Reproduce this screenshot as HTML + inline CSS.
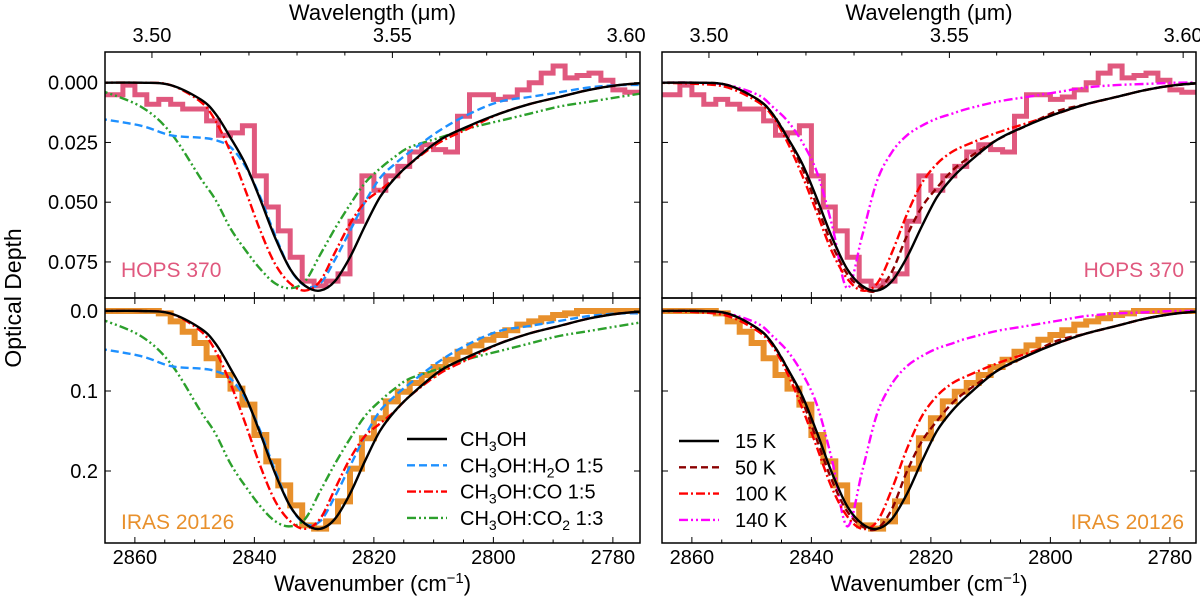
<!DOCTYPE html>
<html><head><meta charset="utf-8"><style>
html,body{margin:0;padding:0;background:#fff;}
svg{display:block;font-family:"Liberation Sans","DejaVu Sans",sans-serif;}
</style></head><body>
<svg id="chart" width="1200" height="599" viewBox="0 0 1200 599" xmlns="http://www.w3.org/2000/svg">
<rect width="1200" height="599" fill="#fff"/>
</svg>
<script>
// wavenumber grid for model profiles (cm^-1)
const gridWn = [2866,2859,2854,2849,2846.5,2844,2841.5,2839,2836.5,2834,2831.5,2829,2826.5,2824,2821.5,2819,2816.5,2814,2809,2804,2799,2794,2789,2784,2779,2774];
// model optical depths (HOPS 370 scale)
const pureCH3OH = [0,0,0.001,0.007,0.013,0.023,0.034,0.049,0.065,0.078,0.085,0.087,0.083,0.073,0.060,0.048,0.040,0.034,0.024,0.018,0.013,0.009,0.006,0.003,0.001,0];
const mixH2O   = [0.015,0.018,0.022,0.023,0.024,0.027,0.035,0.048,0.064,0.078,0.085,0.084,0.074,0.062,0.050,0.040,0.034,0.029,0.020,0.013,0.008,0.006,0.004,0.002,0.001,0.001];
const mixCO    = [0,0,0.001,0.008,0.016,0.029,0.045,0.062,0.076,0.084,0.087,0.083,0.071,0.059,0.050,0.045,0.040,0.034,0.025,0.019,0.013,0.009,0.006,0.003,0.001,0];
const mixCO2   = [0.003,0.010,0.021,0.040,0.049,0.061,0.070,0.078,0.084,0.086,0.083,0.072,0.061,0.051,0.042,0.036,0.031,0.027,0.023,0.019,0.016,0.013,0.010,0.008,0.006,0.004];
const temp50K  = [0,0,0.001,0.007,0.013,0.023,0.036,0.052,0.068,0.080,0.086,0.087,0.079,0.064,0.052,0.044,0.037,0.032,0.024,0.018,0.012,0.009,0.006,0.003,0.001,0];
const temp100K = [0,0.0005,0.002,0.008,0.014,0.025,0.039,0.055,0.071,0.082,0.087,0.084,0.071,0.055,0.042,0.034,0.029,0.026,0.021,0.017,0.013,0.009,0.006,0.003,0.001,0];
const temp140K = [0,0,0.001,0.005,0.010,0.016,0.025,0.038,0.060,0.086,0.064,0.041,0.029,0.022,0.018,0.015,0.013,0.011,0.008,0.006,0.004,0.002,0.001,0.0005,0,0];
// observed spectra, 2 cm^-1 bins starting at 2866
const binStart = 2866;
const binWidth = 2;
const hopsTau = [0.005,0.005,0.001,0.005,0.009,0.007,0.009,0.011,0.011,0.016,0.022,0.021,0.018,0.039,0.052,0.062,0.073,0.083,0.085,0.083,0.080,0.058,0.039,0.045,0.039,0.035,0.029,0.026,0.028,0.029,0.014,0.005,0.005,0.007,0.006,0.003,0.000,-0.004,-0.007,-0.002,-0.003,-0.004,-0.001,0.003,0.004,0.004];
const irasTau = [0,0,0,0,0,0.003,0.013,0.026,0.040,0.059,0.080,0.097,0.117,0.155,0.188,0.218,0.243,0.268,0.272,0.263,0.238,0.197,0.159,0.134,0.113,0.101,0.090,0.080,0.070,0.061,0.051,0.043,0.036,0.030,0.024,0.017,0.013,0.009,0.005,0.003,0,0,0,0,0,0];
const panelDepthScale = [1, 3.13];
const yTicksTop = [0.000,0.025,0.050,0.075];
const yTickLabelsTop = ["0.000","0.025","0.050","0.075"];
const yTicksBottom = [0.0,0.1,0.2];
const yTickLabelsBottom = ["0.0","0.1","0.2"];
const xTicks = [2860,2840,2820,2800,2780];
const wlTicks = [3.50,3.55,3.60];

const NS="http://www.w3.org/2000/svg";
const svg=document.getElementById('chart');
function mk(tag,attrs,parent){const e=document.createElementNS(NS,tag);for(const k in attrs)e.setAttribute(k,attrs[k]);(parent||svg).appendChild(e);return e;}

const panels=[
 {L:105,R:640,T:52,B:298,y0:82.7,k:2390,row:0,side:0},
 {L:662,R:1196,T:52,B:298,y0:82.7,k:2390,row:0,side:1},
 {L:105,R:640,T:298,B:543,y0:311,k:800,row:1,side:0},
 {L:662,R:1196,T:298,B:543,y0:311,k:800,row:1,side:1}
];
const WN0=2865, PX=5.975;
const TICKFS=20, TITLEFS=22;
function smoothPath(pts){
  let d="M"+pts[0][0].toFixed(1)+","+pts[0][1].toFixed(1);
  for(let i=0;i<pts.length-1;i++){
    const p0=pts[Math.max(0,i-1)],p1=pts[i],p2=pts[i+1],p3=pts[Math.min(pts.length-1,i+2)];
    const c1=[p1[0]+(p2[0]-p0[0])/6,p1[1]+(p2[1]-p0[1])/6];
    const c2=[p2[0]-(p3[0]-p1[0])/6,p2[1]-(p3[1]-p1[1])/6];
    d+="C"+c1[0].toFixed(1)+","+c1[1].toFixed(1)+" "+c2[0].toFixed(1)+","+c2[1].toFixed(1)+" "+p2[0].toFixed(1)+","+p2[1].toFixed(1);
  }
  return d;
}
const defs=mk('defs',{});
panels.forEach((p,pi)=>{
  const cp=mk('clipPath',{id:'clip'+pi},defs);
  mk('rect',{x:p.L,y:p.T,width:p.R-p.L,height:p.B-p.T},cp);
});

panels.forEach((p,pi)=>{
  const xs=wn=>p.L+(WN0-wn)*PX;
  const ys=t=>p.y0+t*p.k;
  const sc=panelDepthScale[p.row];
  const g=mk('g',{'clip-path':'url(#clip'+pi+')'});
  
  
  const obs=p.row?irasTau:hopsTau;
  let d="";
  obs.forEach((v,i)=>{
    const x1=xs(binStart-i*binWidth), x2=xs(binStart-(i+1)*binWidth), y=ys(v);
    d+=(i===0?"M"+x1.toFixed(1)+","+y.toFixed(1):"V"+y.toFixed(1))+"H"+x2.toFixed(1);
  });
  const h=mk('path',{d:d,fill:'none',stroke:p.row?'#e8902c':'#e0587e','stroke-width':p.row?6:5,'stroke-linejoin':'miter'},g);
  
  
  const series=p.side===0?[
    {v:mixCO2,c:'#2ca02c',da:'9,3,2,3,2,3',n:'ch3oh-co2-model'},
    {v:mixH2O,c:'#1e90ff',da:'8,4',n:'ch3oh-h2o-model'},
    {v:mixCO,c:'#ff0000',da:'9,3,2,3',n:'ch3oh-co-model'},
    {v:pureCH3OH,c:'#000',da:'',n:'ch3oh-model'}
  ]:[
    {v:temp140K,c:'#ff00ff',da:'9,3,2,3,2,3',n:'140k-model'},
    {v:temp100K,c:'#ff0000',da:'9,3,2,3',n:'100k-model'},
    {v:temp50K,c:'#8b0000',da:'7,4',n:'50k-model'},
    {v:pureCH3OH,c:'#000',da:'',n:'15k-model'}
  ];
  series.forEach(s=>{
    const pts=gridWn.map((w,i)=>[xs(w),ys(s.v[i]*sc)]);
    const a={d:smoothPath(pts),fill:'none',stroke:s.c,'stroke-width':2.4};
    if(s.da)a['stroke-dasharray']=s.da;
    const e=mk('path',a,g);
    
    
  });
  const fr=mk('rect',{x:p.L,y:p.T,width:p.R-p.L,height:p.B-p.T,fill:'none',stroke:'#000','stroke-width':1.5});
  
  
  for(let w=2865;w>=2775;w-=5){
    const x=xs(w); if(x<p.L+1||x>p.R-1)continue;
    const len=(w%20===0)?6:3.5;
    mk('line',{x1:x,x2:x,y1:p.B,y2:p.B-len,stroke:'#000','stroke-width':1});
    if(p.row===1) mk('line',{x1:x,x2:x,y1:p.T,y2:p.T+len,stroke:'#000','stroke-width':1});
  }
  if(p.row===1){
    xTicks.forEach(w=>{
      const t=mk('text',{x:xs(w),y:564,'font-size':TICKFS,'text-anchor':'middle',fill:'#000'});
      t.textContent=String(w);
      
      
    });
  } else {
    for(let l=3.49;l<=3.611;l+=0.01){
      const x=xs(10000/l); if(x<p.L+1||x>p.R-1)continue;
      const maj=Math.abs(Math.round(l*100)%5)===0;
      mk('line',{x1:x,x2:x,y1:p.T,y2:p.T+(maj?6:3.5),stroke:'#000','stroke-width':1});
    }
    wlTicks.forEach(l=>{
      const t=mk('text',{x:xs(10000/l),y:42,'font-size':TICKFS,'text-anchor':'middle',fill:'#000'});
      t.textContent=l.toFixed(2);
      
      
    });
    const wt=mk('text',{x:(p.L+p.R)/2,y:20,'font-size':TITLEFS,'text-anchor':'middle',fill:'#000'});
    wt.textContent='Wavelength (μm)';
    
    
  }
  const yt=p.row?yTicksBottom:yTicksTop, yl=p.row?yTickLabelsBottom:yTickLabelsTop;
  yt.forEach((v,i)=>{
    const y=ys(v);
    mk('line',{x1:p.L,x2:p.L+6,y1:y,y2:y,stroke:'#000','stroke-width':1});
    mk('line',{x1:p.R,x2:p.R-6,y1:y,y2:y,stroke:'#000','stroke-width':1});
    if(p.side===0){
      const t=mk('text',{x:p.L-7,y:y+7,'font-size':TICKFS,'text-anchor':'end',fill:'#000'});
      t.textContent=yl[i];
      
      
    }
  });
  if(p.row===1){
    const xt=mk('text',{x:(p.L+p.R)/2,y:591,'font-size':TITLEFS,'text-anchor':'middle',fill:'#000'});
    xt.innerHTML='Wavenumber (cm<tspan dy="-8" font-size="15">−1</tspan><tspan dy="8">)</tspan>';
    
    
  }
  const lab=mk('text',{x:p.side?p.R-12:p.L+16,y:p.row?529:277,'font-size':21,'text-anchor':p.side?'end':'start',fill:p.row?'#e8902c':'#e0587e'});
  lab.textContent=p.row?'IRAS 20126':'HOPS 370';
  
  
});

const yTitle=mk('text',{x:21,y:298,'font-size':23,'text-anchor':'middle',transform:'rotate(-90 21 298)',fill:'#000'});
yTitle.textContent='Optical Depth';



function legend(x0,xt,ys0,items,name){
  const g=mk('g',{});
  
  
  items.forEach((it,i)=>{
    const y=ys0+i*26.3;
    const a={x1:x0,x2:x0+40,y1:y,y2:y,stroke:it.c,'stroke-width':2.4};
    if(it.da)a['stroke-dasharray']=it.da;
    mk('line',a,g);
    const t=mk('text',{x:xt,y:y+7,'font-size':20,fill:'#000'},g);
    t.innerHTML=it.t;
    
    
  });
}
const sub=s=>'<tspan dy="5" font-size="14">'+s+'</tspan><tspan dy="-5">';
legend(407,460,439,[
  {c:'#000',da:'',t:'CH'+sub('3')+'OH</tspan>'},
  {c:'#1e90ff',da:'8,4',t:'CH'+sub('3')+'OH:H</tspan>'+sub('2')+'O 1:5</tspan>'},
  {c:'#ff0000',da:'9,3,2,3',t:'CH'+sub('3')+'OH:CO 1:5</tspan>'},
  {c:'#2ca02c',da:'9,3,2,3,2,3',t:'CH'+sub('3')+'OH:CO</tspan>'+sub('2')+' 1:3</tspan>'}
],'mixture-legend');
legend(679,735,441,[
  {c:'#000',da:'',t:'15 K'},
  {c:'#8b0000',da:'7,4',t:'50 K'},
  {c:'#ff0000',da:'9,3,2,3',t:'100 K'},
  {c:'#ff00ff',da:'9,3,2,3,2,3',t:'140 K'}
],'temperature-legend');
</script>
</body></html>
